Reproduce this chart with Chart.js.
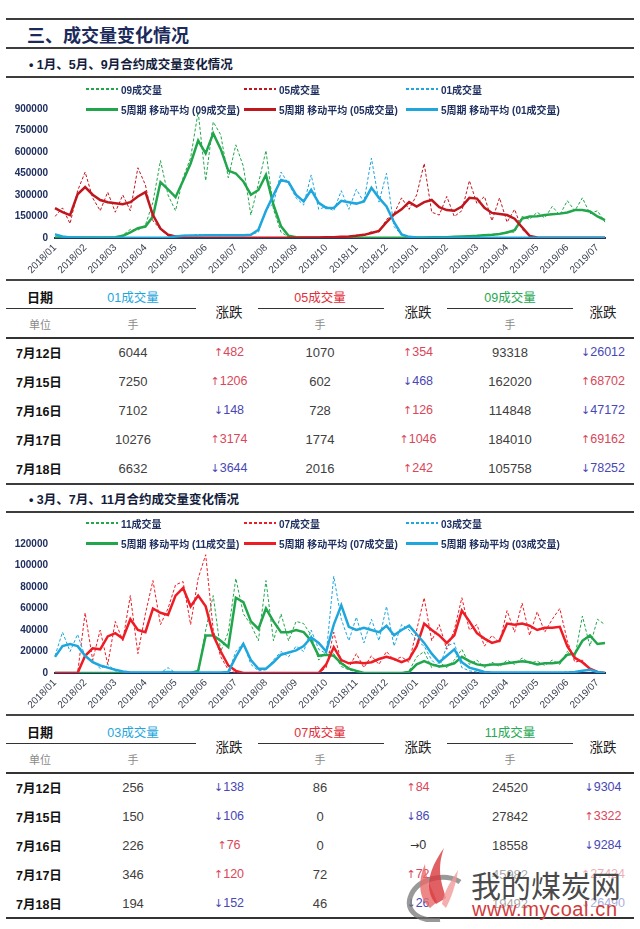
<!DOCTYPE html>
<html>
<head>
<meta charset="utf-8">
<script src="https://cdn.jsdelivr.net/npm/chart.js@4.4.1/dist/chart.umd.min.js"></script>
<style>
body { margin: 0; background: #fff; }
#page { position: relative; width: 640px; height: 929px; overflow: hidden;
        font-family: "Liberation Sans", "Noto Sans CJK SC", sans-serif; }
.t { position: absolute; white-space: nowrap; line-height: 1; }
.ln { position: absolute; }
canvas { position: absolute; left: 0; }
</style>
</head>
<body>
<div id="page">
  <canvas id="chart1" width="640" height="200" style="top:80px"></canvas>
  <canvas id="chart2" width="640" height="200" style="top:515px"></canvas>
</div>
<script>
const FONT = '"Liberation Sans", "Noto Sans CJK SC", sans-serif';
const NAVY = '#1f3060';

// x axis: 4 samples per month, 2018/01 .. mid 2019/07
const monthLabels = ['2018/01', '2018/02', '2018/03', '2018/04', '2018/05', '2018/06', '2018/07',
  '2018/08', '2018/09', '2018/10', '2018/11', '2018/12', '2019/01', '2019/02', '2019/03',
  '2019/04', '2019/05', '2019/06', '2019/07'];
const N_POINTS = 74;
const xLabels = [];
for (let i = 0; i < N_POINTS; i++) xLabels.push(i % 4 === 0 ? monthLabels[i / 4] : '');

// ---- chart 1: 01 / 05 / 09 contracts ----
const vol09 = [3000, 2000, 4000, 3000, 2000, 5000, 3000, 4000, 8000, 20000,
  60000, 55000, 90000, 250000, 540000, 300000, 190000, 420000, 560000, 880000,
  400000, 810000, 720000, 420000, 650000, 500000, 160000, 380000, 610000, 200000,
  40000, 8000, 3000, 2000, 1000, 2000, 1000, 2000, 1000, 2000,
  1000, 2000, 1000, 2000, 1000, 2000, 3000, 2000, 3000, 4000,
  5000, 4000, 6000, 8000, 10000, 15000, 12000, 25000, 18000, 25000,
  45000, 40000, 150000, 130000, 180000, 140000, 220000, 160000, 260000, 190000,
  280000, 170000, 190000, 110000];
const ma09 = [3000, 3000, 3000, 3000, 3000, 3000, 4000, 4000, 5000, 15000,
  40000, 68000, 80000, 150000, 390000, 340000, 285000, 400000, 520000, 680000,
  590000, 730000, 620000, 470000, 450000, 395000, 302000, 335000, 440000, 230000,
  81000, 15000, 5000, 2000, 2000, 2000, 2000, 2000, 2000, 2000,
  2000, 2000, 2000, 2000, 2000, 2000, 2000, 3000, 3000, 4000,
  5000, 5000, 6000, 8000, 10000, 12000, 15000, 20000, 22000, 28000,
  38000, 55000, 135000, 150000, 152000, 160000, 165000, 170000, 178000, 195000,
  195000, 185000, 150000, 125000];
const vol05 = [150000, 210000, 100000, 330000, 460000, 280000, 190000, 320000, 180000, 300000,
  190000, 490000, 370000, 120000, 60000, 15000, 5000, 2000, 1000, 1000,
  1000, 1000, 1000, 1000, 1000, 1000, 1000, 1000, 1000, 1000,
  1000, 2000, 2000, 3000, 2000, 4000, 3000, 6000, 10000, 8000,
  20000, 15000, 45000, 40000, 130000, 170000, 280000, 200000, 300000, 520000,
  180000, 160000, 290000, 150000, 190000, 400000, 240000, 290000, 120000, 280000,
  110000, 200000, 60000, 10000, 2000, 1000, 1000, 1000, 1000, 1000,
  1000, 1000, 1000, 1000];
const ma05 = [209000, 180000, 160000, 305000, 355000, 302000, 265000, 250000, 243000, 235000,
  250000, 290000, 320000, 160000, 65000, 23000, 10000, 4000, 2000, 2000,
  2000, 2000, 2000, 2000, 2000, 2000, 2000, 2000, 2000, 2000,
  2000, 2000, 2000, 3000, 3000, 4000, 5000, 6000, 8000, 10000,
  15000, 22000, 35000, 50000, 110000, 165000, 200000, 250000, 220000, 250000,
  265000, 215000, 195000, 190000, 220000, 280000, 275000, 210000, 175000, 168000,
  160000, 135000, 75000, 15000, 3000, 1000, 1000, 1000, 1000, 1000,
  1000, 1000, 1000, 1000];
const vol01 = [28000, 5000, 3000, 2000, 2000, 2000, 2000, 2000, 2000, 2000,
  2000, 2000, 2000, 2000, 2000, 5000, 12000, 20000, 15000, 25000,
  18000, 22000, 16000, 24000, 20000, 18000, 25000, 40000, 200000, 240000,
  460000, 380000, 280000, 230000, 440000, 200000, 220000, 190000, 330000, 200000,
  340000, 250000, 557000, 250000, 452000, 80000, 20000, 5000, 2000, 2000,
  2000, 2000, 2000, 2000, 2000, 2000, 2000, 2000, 2000, 2000,
  2000, 2000, 2000, 2000, 2000, 2000, 2000, 2000, 2000, 2000,
  2000, 3000, 2000, 3000];
const ma01 = [25000, 10000, 4000, 3000, 2000, 2000, 2000, 2000, 2000, 2000,
  2000, 2000, 2000, 2000, 2000, 4000, 10000, 15000, 18000, 18000,
  19000, 19000, 19000, 20000, 20000, 20000, 22000, 58000, 190000, 300000,
  405000, 390000, 300000, 255000, 335000, 245000, 210000, 210000, 260000, 250000,
  240000, 255000, 350000, 280000, 220000, 110000, 25000, 8000, 3000, 2000,
  2000, 2000, 2000, 2000, 2000, 2000, 2000, 2000, 2000, 2000,
  2000, 2000, 2000, 2000, 2000, 2000, 2000, 2000, 2000, 2000,
  2000, 2000, 2000, 2000];

// ---- chart 2: 03 / 07 / 11 contracts ----
const vol11 = [0, 0, 0, 0, 0, 0, 0, 0, 0, 0,
  0, 0, 0, 0, 0, 0, 0, 0, 0, 0,
  40000, 72000, 20000, 38000, 88000, 55000, 45000, 30000, 86000, 30000,
  55000, 30000, 48000, 46000, 35000, 12000, 20000, 18000, 6000, 3000,
  1000, 0, 0, 0, 0, 0, 0, 2000, 15000, 20000,
  5000, 10000, 5000, 12000, 22000, 8000, 12000, 5000, 10000, 6000,
  12000, 8000, 14000, 9000, 11000, 7000, 12000, 8000, 20000, 15000,
  53000, 25000, 50000, 45000];
const ma11 = [0, 0, 0, 0, 0, 0, 0, 0, 0, 0,
  0, 0, 0, 0, 0, 0, 0, 0, 0, 2000,
  35000, 35000, 30000, 24000, 70000, 66000, 48000, 41000, 60000, 48000,
  38000, 38000, 40000, 38000, 30000, 16000, 17000, 16000, 9000, 4000,
  2000, 0, 0, 0, 0, 0, 0, 1000, 8000, 11000,
  8000, 6000, 7000, 9000, 15000, 11000, 8000, 7000, 8000, 8000,
  9000, 10000, 11000, 10000, 8000, 9000, 9000, 10000, 17000, 18000,
  30000, 35000, 27000, 28000];
const vol07 = [0, 0, 0, 0, 56000, 12000, 40000, 8000, 48000, 30000,
  72000, 18000, 55000, 86000, 45000, 60000, 82000, 85000, 45000, 88000,
  110000, 40000, 15000, 3000, 0, 0, 0, 0, 0, 0,
  0, 0, 0, 0, 0, 0, 5000, 38000, 10000, 5000,
  18000, 5000, 16000, 8000, 20000, 12000, 15000, 10000, 40000, 70000,
  30000, 45000, 22000, 40000, 70000, 40000, 45000, 25000, 35000, 28000,
  58000, 38000, 65000, 35000, 57000, 38000, 50000, 60000, 30000, 10000,
  12000, 3000, 1000, 0];
const ma07 = [0, 0, 0, 0, 16000, 23000, 22000, 34000, 37000, 32000,
  50000, 40000, 38000, 60000, 56000, 54000, 72000, 79000, 62000, 72000,
  62000, 35000, 20000, 7000, 2000, 0, 0, 0, 0, 0,
  0, 0, 0, 0, 0, 0, 8000, 24000, 12000, 9000,
  10000, 9000, 10000, 13000, 15000, 13000, 10000, 13000, 25000, 46000,
  40000, 35000, 28000, 35000, 58000, 48000, 37000, 32000, 28000, 30000,
  46000, 45000, 46000, 44000, 40000, 42000, 42000, 43000, 25000, 14000,
  10000, 4000, 1000, 0];
const vol03 = [16000, 38000, 20000, 36000, 15000, 12000, 4000, 8000, 2000, 1000,
  0, 0, 0, 0, 0, 5000, 0, 0, 0, 0,
  0, 0, 0, 0, 20000, 28000, 8000, 2000, 3000, 12000,
  20000, 15000, 25000, 20000, 40000, 22000, 18000, 90000, 50000, 30000,
  52000, 28000, 50000, 30000, 62000, 25000, 45000, 40000, 30000, 25000,
  12000, 5000, 25000, 28000, 5000, 2000, 1000, 500, 500, 500,
  500, 500, 500, 500, 500, 500, 500, 500, 1000, 1000,
  2000, 3000, 1000, 0];
const ma03 = [15000, 25000, 27000, 25000, 16000, 10000, 7000, 5000, 3000, 1500,
  500, 500, 500, 500, 500, 1000, 500, 500, 500, 500,
  500, 500, 500, 1000, 15000, 27000, 12000, 4000, 4000, 10000,
  17000, 19000, 21000, 25000, 33000, 28000, 20000, 45000, 63000, 43000,
  40000, 42000, 40000, 38000, 44000, 35000, 40000, 44000, 36000, 28000,
  18000, 10000, 16000, 22000, 10000, 5000, 3000, 1000, 500, 500,
  500, 500, 500, 500, 500, 500, 500, 500, 500, 1000,
  2000, 3000, 1000, 0];

// ---- tables ----
const tableDates = ['7月12日', '7月15日', '7月16日', '7月17日', '7月18日'];
const t1Vol01 = [6044, 7250, 7102, 10276, 6632];
const t1Chg01 = [482, 1206, -148, 3174, -3644];
const t1Vol05 = [1070, 602, 728, 1774, 2016];
const t1Chg05 = [354, -468, 126, 1046, 242];
const t1Vol09 = [93318, 162020, 114848, 184010, 105758];
const t1Chg09 = [-26012, 68702, -47172, 69162, -78252];
const t2Vol03 = [256, 150, 226, 346, 194];
const t2Chg03 = [-138, -106, 76, 120, -152];
const t2Vol07 = [86, 0, 0, 72, 46];
const t2Chg07 = [84, -86, 0, 72, -26];
const t2Vol11 = [24520, 27842, 18558, 45982, 19492];
const t2Chg11 = [-9304, 3322, -9284, 27424, -26490];

const GREEN = '#22a64c';
const RED1 = '#c0161e';
const RED2 = '#ee1c24';
const CYAN = '#1ea6dd';

const page = document.getElementById('page');

function put(text, x, y, css, align) {
  const el = document.createElement('div');
  el.className = 't';
  el.textContent = text;
  el.style.left = x + 'px';
  el.style.top = y + 'px';
  el.style.transform = align === 'left' ? 'translate(0,-50%)' : 'translate(-50%,-50%)';
  Object.assign(el.style, css);
  page.appendChild(el);
  return el;
}

function hline(x1, x2, y, w, color) {
  const el = document.createElement('div');
  el.className = 'ln';
  el.style.left = x1 + 'px';
  el.style.width = (x2 - x1) + 'px';
  el.style.top = (y - w / 2) + 'px';
  el.style.height = w + 'px';
  el.style.background = color;
  page.appendChild(el);
}

// headings
hline(6, 634, 19, 2, '#3c3c3c');
put('三、成交量变化情况', 27, 34, { font: 'bold 18px ' + FONT, color: '#1b2a5b' }, 'left');
hline(6, 634, 48, 2, '#3c3c3c');
put('• 1月、5月、9月合约成交量变化情况', 29, 63, { font: 'bold 12.5px ' + FONT, color: '#141c3c' }, 'left');
hline(6, 634, 77, 2, '#3c3c3c');

hline(6, 634, 484, 2, '#3c3c3c');
put('• 3月、7月、11月合约成交量变化情况', 29, 498, { font: 'bold 12.5px ' + FONT, color: '#141c3c' }, 'left');
hline(6, 634, 512, 2, '#3c3c3c');

// legends
function legendItem(x, y, color, dashed, label) {
  const s = document.createElement('div');
  s.className = 'ln';
  s.style.left = x + 'px';
  s.style.width = '32px';
  if (dashed) {
    s.style.top = (y - 0.75) + 'px';
    s.style.height = '1.5px';
    s.style.background = `repeating-linear-gradient(90deg, ${color} 0 3px, transparent 3px 5px)`;
  } else {
    s.style.top = (y - 1.5) + 'px';
    s.style.height = '3px';
    s.style.background = color;
  }
  page.appendChild(s);
  put(label, x + 35, y, { font: 'bold 10px ' + FONT, color: NAVY }, 'left');
}

function legend(y1, y2, names, colors) {
  const xs = [86, 244, 406];
  names.forEach((n, k) => {
    legendItem(xs[k], y1, colors[k], true, n + '成交量');
    legendItem(xs[k], y2, colors[k], false, '5周期 移动平均 (' + n + '成交量)');
  });
}
legend(89, 109, ['09', '05', '01'], [GREEN, RED1, CYAN]);
legend(523, 543, ['11', '07', '03'], [GREEN, RED2, CYAN]);

// charts
function lineSet(data, color, dashed) {
  return {
    data: data,
    borderColor: color,
    borderWidth: dashed ? 1 : 2.5,
    borderDash: dashed ? [3, 2] : [],
    pointRadius: 0,
    fill: false,
    tension: 0
  };
}

function makeChart(id, datasets, yMax, yStep) {
  return new Chart(document.getElementById(id), {
    type: 'line',
    data: { labels: xLabels, datasets: datasets },
    options: {
      responsive: false,
      animation: false,
      layout: { padding: { top: 29, right: 35, left: 0, bottom: 0 } },
      plugins: { legend: { display: false }, tooltip: { enabled: false } },
      scales: {
        x: {
          grid: { display: false, drawTicks: false },
          border: { display: true, color: '#1f3864', width: 2 },
          ticks: {
            autoSkip: false, minRotation: 45, maxRotation: 45, padding: 4,
            color: '#3b4152', font: { size: 10, family: FONT }
          },
          afterFit: s => { s.height = 42; }
        },
        y: {
          min: 0, max: yMax,
          grid: { display: false, drawTicks: false },
          border: { display: false },
          ticks: {
            stepSize: yStep, padding: 7, color: NAVY,
            font: { size: 10, weight: 'bold', family: FONT },
            callback: v => String(v)
          },
          afterFit: s => { s.width = 55; }
        }
      }
    }
  });
}

// moving averages first so they are drawn on top of the dashed daily lines
makeChart('chart1', [
  lineSet(ma01, CYAN, false), lineSet(ma05, RED1, false), lineSet(ma09, GREEN, false),
  lineSet(vol01, CYAN, true), lineSet(vol05, RED1, true), lineSet(vol09, GREEN, true)
], 900000, 150000);

makeChart('chart2', [
  lineSet(ma03, CYAN, false), lineSet(ma07, RED2, false), lineSet(ma11, GREEN, false),
  lineSet(vol03, CYAN, true), lineSet(vol07, RED2, true), lineSet(vol11, GREEN, true)
], 120000, 20000);

// tables
const COLX = [133, 229, 320, 418, 510, 603];

function chgCell(v, x, y) {
  const el = put('', x, y, { font: '12.5px ' + FONT });
  let arrow, color;
  if (v > 0) { arrow = '↑'; color = '#d8485a'; }
  else if (v < 0) { arrow = '↓'; color = '#4848b4'; }
  else { arrow = '→'; color = '#333'; }
  el.style.color = color;
  el.innerHTML = '<span style="font-family:DejaVu Sans;font-size:11px">' + arrow + '</span>' + Math.abs(v);
}

function table(top, names, colors, vols, chgs, drawBottom) {
  hline(6, 634, top, 2, '#444');
  const hy = top + 15.5;
  put('日期', 40, hy, { font: 'bold 13px ' + FONT, color: '#111' });
  [0, 2, 4].forEach((c, k) => {
    put(names[k] + '成交量', COLX[c], hy, { font: '12.5px ' + FONT, color: colors[k] });
  });
  hline(6, 196, top + 28.5, 1.5, '#333');
  hline(258, 384, top + 28.5, 1.5, '#333');
  hline(447, 573, top + 28.5, 1.5, '#333');
  [1, 3, 5].forEach(c => put('涨跌', COLX[c], top + 30.5, { font: '13.5px ' + FONT, color: '#222' }));
  put('单位', 40, top + 44, { font: '11px ' + FONT, color: '#8a8a8a' });
  [0, 2, 4].forEach(c => put('手', COLX[c], top + 44, { font: '11px ' + FONT, color: '#8a8a8a' }));
  hline(6, 634, top + 58, 2, '#333');
  tableDates.forEach((d, r) => {
    const y = top + 72 + 29 * r;
    put(d, 16, y, { font: 'bold 12.5px ' + FONT, color: '#111' }, 'left');
    for (let k = 0; k < 3; k++) {
      put(String(vols[k][r]), COLX[2 * k], y, { font: '13px ' + FONT, color: '#404040' });
      chgCell(chgs[k][r], COLX[2 * k + 1], y);
    }
  });
  if (drawBottom) hline(6, 634, top + 203, 2, '#333');
}

table(280, ['01', '05', '09'], [CYAN, '#e0303a', '#27a852'],
  [t1Vol01, t1Vol05, t1Vol09], [t1Chg01, t1Chg05, t1Chg09], false);
table(715, ['03', '07', '11'], [CYAN, '#e0303a', '#27a852'],
  [t2Vol03, t2Vol07, t2Vol11], [t2Chg03, t2Chg07, t2Chg11], true);

// watermark
const veil = document.createElement('div');
veil.className = 'ln';
veil.style.cssText = 'left:452px;top:862px;width:182px;height:54px;background:rgba(255,255,255,0.55)';
page.appendChild(veil);
const logo = document.createElementNS('http://www.w3.org/2000/svg', 'svg');
logo.setAttribute('width', '80');
logo.setAttribute('height', '80');
logo.setAttribute('viewBox', '0 0 80 80');
logo.style.cssText = 'position:absolute;left:394px;top:842px';
logo.innerHTML =
  '<path d="M66 40 C52 30 22 36 16 56 C12 70 26 80 46 78" stroke="#777" stroke-width="5" fill="none" opacity="0.75"/>' +
  '<path d="M36 66 C24 56 24 38 31 22 C31 36 39 48 43 60 Z" fill="#e86a6a" opacity="0.8"/>' +
  '<path d="M42 62 C30 48 34 28 50 6 C42 28 48 42 52 56 Z" fill="#d8383c" opacity="0.8"/>' +
  '<path d="M48 62 C50 48 58 38 64 28 C62 42 58 54 52 66 Z" fill="#f29a9a" opacity="0.8"/>';
page.appendChild(logo);
put('我的煤炭网', 471, 884, { font: '30px "Noto Sans CJK SC"', color: '#4a4a4a' }, 'left');
put('www.mycoal.cn', 472, 909, { font: '20px ' + FONT, color: '#d23a3a', letterSpacing: '0.6px' }, 'left');
</script>
</body>
</html>
